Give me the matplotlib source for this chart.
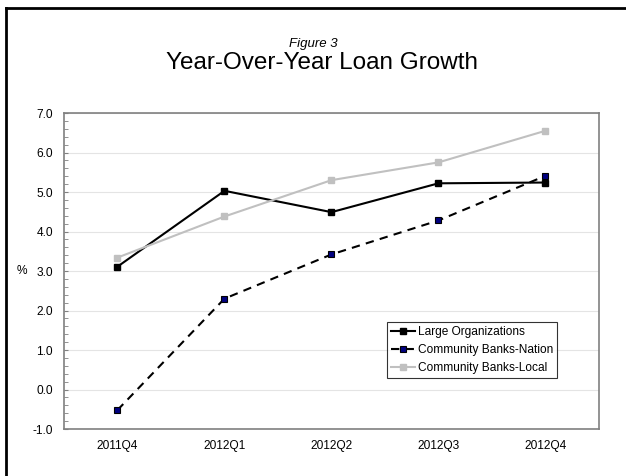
import matplotlib.pyplot as plt
from matplotlib.lines import Line2D
from matplotlib.ticker import MultipleLocator

plt.rcParams['font.family'] = ['Liberation Sans', 'DejaVu Sans']

# data
quarters = ['2011Q4', '2012Q1', '2012Q2', '2012Q3', '2012Q4']
large_org = [3.11, 5.03, 4.49, 5.22, 5.24]
cb_nation = [-0.52, 2.30, 3.42, 4.28, 5.41]
cb_local = [3.34, 4.38, 5.30, 5.75, 6.55]

fig = plt.figure(figsize=(6.26, 4.76), dpi=100)
ax = fig.add_axes([0.1022, 0.0987, 0.8546, 0.6639])

x = range(len(quarters))
ax.plot(x, large_org, color='black', lw=1.5, marker='s', ms=4,
        mfc='black', mec='black', label='Large Organizations')
ax.plot(x, cb_nation, color='black', lw=1.5, ls=(0, (4, 3)), marker='s', ms=4,
        mfc='#000080', mec='black', mew=0.8, label='Community Banks-Nation')
ax.plot(x, cb_local, color='#c0c0c0', lw=1.5, marker='s', ms=4,
        mfc='#c0c0c0', mec='#c0c0c0', label='Community Banks-Local')

ax.set_xlim(-0.5, len(quarters) - 0.5)
ax.set_ylim(-1, 7)
ax.set_xticks(list(x))
ax.set_xticklabels(quarters, fontsize=8.6)
ax.yaxis.set_major_locator(MultipleLocator(1))
ax.yaxis.set_minor_locator(MultipleLocator(0.2))
ax.set_yticklabels([f'{v:.1f}' for v in ax.get_yticks()], fontsize=8.6)
ax.tick_params(axis='x', length=0, pad=8)
ax.tick_params(axis='y', which='major', direction='in', length=3, color='#808080', pad=8)
ax.tick_params(axis='y', which='minor', direction='in', length=3, color='#808080')
ax.grid(axis='y', color='#e4e4e4', lw=0.8)
ax.set_axisbelow(True)
for s in ax.spines.values():
    s.set_color('#808080')
    s.set_linewidth(1.2)

ax.set_ylabel('%', fontsize=8.6, rotation=0, labelpad=8, va='center')

leg = ax.legend(loc='upper left', bbox_to_anchor=(0.604, 0.339), borderaxespad=0,
                fontsize=8.6, frameon=True, fancybox=False, edgecolor='black',
                handlelength=2.0, handletextpad=0.2, labelspacing=0.5, borderpad=0.35)
leg.get_frame().set_linewidth(0.8)

fig.text(0.5, 1 - 44 / 476, 'Figure 3', ha='center', va='center', fontsize=9.5, style='italic')
fig.text(0.514, 1 - 63 / 476, 'Year-Over-Year Loan Growth', ha='center', va='center', fontsize=17.5)

# outer frame (top and left edges)
fig.add_artist(Line2D([6 / 626, 1], [1 - 7.5 / 476, 1 - 7.5 / 476], color='black', lw=2))
fig.add_artist(Line2D([6 / 626, 6 / 626], [0, 1 - 7.5 / 476], color='black', lw=2))

fig.savefig('out.png', dpi=100)
